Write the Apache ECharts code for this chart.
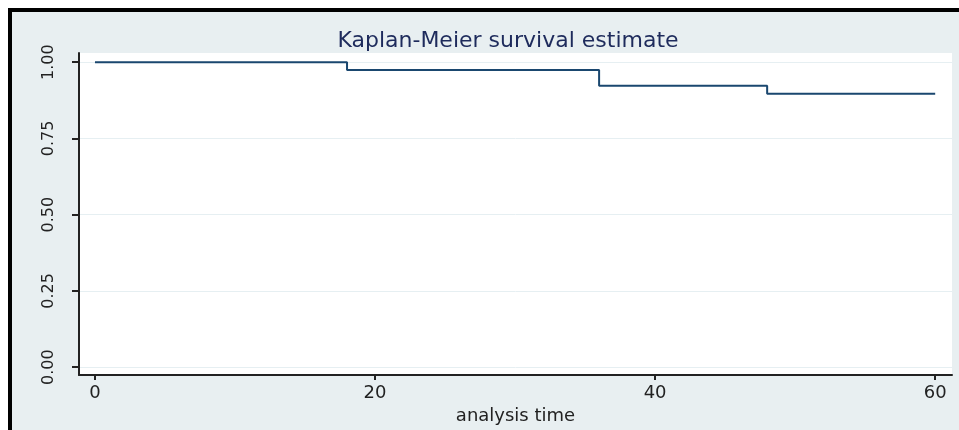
<!DOCTYPE html>
<html>
<head>
<meta charset="utf-8">
<script src="https://cdn.jsdelivr.net/npm/echarts@6/dist/echarts.min.js"></script>
<style>
  body { margin: 0; background: #fff; }
  #wrap { position: absolute; left: 8px; top: 8px; width: 947px; height: 418px;
          border-left: 4px solid #000; border-top: 4px solid #000; background: #e8eff1; }
  #chart { width: 947px; height: 418px; }
</style>
</head>
<body>
<div id="wrap"><div id="chart"></div></div>
<script>
// survival steps
var times = [0, 18, 36, 48, 60];
var survival = [1, 0.974, 0.923, 0.896, 0.896];
var xTicks = [0, 20, 40, 60];
var yTicks = [0, 0.25, 0.5, 0.75, 1];

var pts = [];
for (var i = 0; i < times.length; i++) pts.push([times[i], survival[i]]);

var myChart = echarts.init(document.getElementById('chart'));
var option = {
  animation: false,
  title: {
    text: 'Kaplan-Meier survival estimate',
    left: 491, top: 13, textAlign: 'center',
    textStyle: { fontFamily: 'DejaVu Sans', fontSize: 22, fontWeight: 'normal', color: '#1e2b5c' }
  },
  grid: { left: 67, top: 41, width: 873, height: 324, show: true,
          backgroundColor: '#fff', borderWidth: 0 },
  xAxis: {
    type: 'value', min: -1.14, max: 61.2,
    name: 'analysis time', nameLocation: 'middle', nameGap: 22,
    nameTextStyle: { fontFamily: 'DejaVu Sans', fontSize: 18, color: '#222' },
    axisLine: { onZero: false, lineStyle: { color: '#222', width: 2 } },
    axisTick: { show: true, length: 5, lineStyle: { color: '#222', width: 2 }, customValues: xTicks },
    axisLabel: { margin: 9, customValues: xTicks, fontFamily: 'DejaVu Sans', fontSize: 18, color: '#222' },
    splitLine: { show: false }
  },
  yAxis: {
    type: 'value', min: -0.026, max: 1.03,
    axisLine: { show: true, onZero: false, lineStyle: { color: '#222', width: 2 } },
    axisTick: { show: true, length: 7, lineStyle: { color: '#222', width: 2 }, customValues: yTicks },
    axisLabel: { rotate: 90, margin: 22, customValues: yTicks, fontFamily: 'DejaVu Sans', fontSize: 16, color: '#222',
                 formatter: function (v) { return v.toFixed(2); } },
    splitLine: { show: true, lineStyle: { color: '#e6eff2', width: 1 } }
  },
  series: [{
    type: 'line', step: 'end', showSymbol: false,
    data: pts,
    lineStyle: { color: '#1a476f', width: 2 }
  }]
};
myChart.setOption(option);
</script>
</body>
</html>
